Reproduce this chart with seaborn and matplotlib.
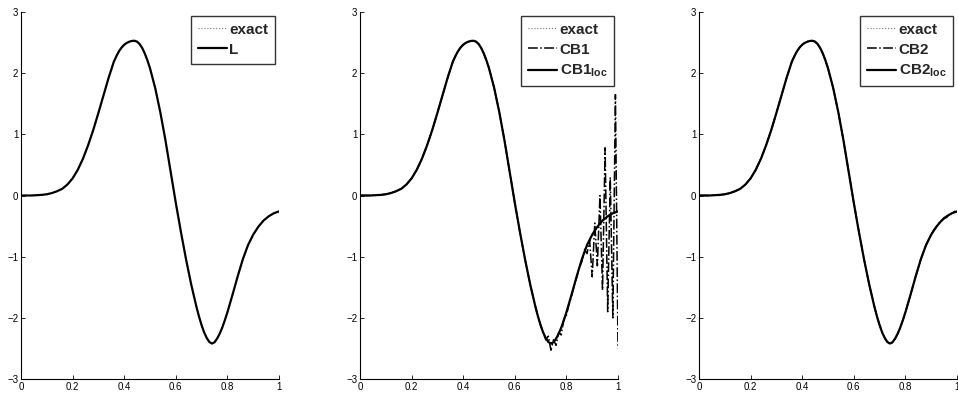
"""Three panels: exact solution vs. L, CB1/CB1_loc and CB2/CB2_loc approximations."""

import matplotlib
matplotlib.use("Agg")
import matplotlib.pyplot as plt
import pandas as pd
import seaborn as sns

# values (denser near the extrema)
x_grid = [0.00, 0.02, 0.04, 0.06, 0.08, 0.10, 0.12, 0.14, 0.16, 0.18,
          0.20, 0.22, 0.24, 0.26, 0.28, 0.30, 0.32, 0.34, 0.36, 0.37,
          0.38, 0.39, 0.40, 0.41, 0.42, 0.43, 0.44, 0.45, 0.46, 0.47,
          0.48, 0.49, 0.50, 0.52, 0.54, 0.56, 0.58, 0.60, 0.62, 0.64,
          0.66, 0.68, 0.69, 0.70, 0.71, 0.72, 0.73, 0.74, 0.75, 0.76,
          0.77, 0.78, 0.79, 0.80, 0.82, 0.84, 0.86, 0.88, 0.90, 0.92,
          0.94, 0.96, 0.98, 1.00]
exact = [0.00, 0.00, 0.00, 0.005, 0.01, 0.02, 0.04, 0.07, 0.11, 0.18,
         0.28, 0.42, 0.60, 0.82, 1.07, 1.35, 1.64, 1.93, 2.19, 2.28,
         2.36, 2.42, 2.465, 2.495, 2.515, 2.527, 2.53, 2.515, 2.475, 2.41,
         2.32, 2.21, 2.08, 1.76, 1.36, 0.90, 0.39, -0.12, -0.60, -1.05,
         -1.46, -1.82, -1.98, -2.12, -2.24, -2.33, -2.395, -2.42, -2.40, -2.34,
         -2.26, -2.16, -2.04, -1.91, -1.62, -1.32, -1.04, -0.81, -0.64, -0.51,
         -0.41, -0.34, -0.29, -0.26]
l_vals = list(exact)
cb1_loc = list(exact)
cb2_loc = list(exact)

# CB1 follows the exact curve up to x=0.70, then oscillates
cb1_tail_x = [0.71, 0.72, 0.73, 0.74, 0.75, 0.76, 0.77, 0.78, 0.79, 0.80,
              0.81, 0.82, 0.83, 0.84, 0.85, 0.86, 0.87, 0.88, 0.89, 0.90,
              0.91, 0.92, 0.93, 0.94, 0.95, 0.96, 0.97, 0.98, 0.99, 1.00]
cb1_tail_y = [-2.24, -2.36, -2.30, -2.53, -2.36, -2.45, -2.24, -2.28, -2.02, -1.96,
              -1.78, -1.64, -1.48, -1.34, -1.18, -1.08, -0.88, -0.95, -0.73, -1.33,
              -0.45, -1.15, 0.00, -1.55, 0.78, -1.90, 0.30, -2.00, 1.65, -2.50]

# CB2 is close to exact, slightly ragged near x=1
cb2_tail_x = [0.91, 0.92, 0.93, 0.94, 0.95, 0.96, 0.97, 0.98, 0.99, 1.00]
cb2_tail_y = [-0.56, -0.52, -0.45, -0.42, -0.36, -0.36, -0.30, -0.31, -0.26, -0.27]

i70 = x_grid.index(0.70) + 1
i90 = x_grid.index(0.90) + 1
cb1_x = x_grid[:i70] + cb1_tail_x
cb1_y = exact[:i70] + cb1_tail_y
cb2_x = x_grid[:i90] + cb2_tail_x
cb2_y = exact[:i90] + cb2_tail_y

sns.set_style("ticks")
plt.rcParams["font.family"] = ["Liberation Sans", "DejaVu Sans"]
plt.rcParams["mathtext.fontset"] = "custom"
plt.rcParams["mathtext.rm"] = "Liberation Sans:bold"
plt.rcParams["mathtext.it"] = "Liberation Sans:bold"
plt.rcParams["mathtext.bf"] = "Liberation Sans:bold"

fig = plt.figure(figsize=(9.58, 3.93), dpi=100)
lefts = [21 / 958, 360 / 958, 699 / 958]
axes = [fig.add_axes([l, 14 / 393, 258 / 958, 367 / 393]) for l in lefts]

panels = [
    [("exact", x_grid, exact, ":"), ("L", x_grid, l_vals, "-")],
    [("exact", x_grid, exact, ":"), ("CB1", cb1_x, cb1_y, "-."),
     ("CB1$_{\\rm loc}$", x_grid, cb1_loc, "-")],
    [("exact", x_grid, exact, ":"), ("CB2", cb2_x, cb2_y, "-."),
     ("CB2$_{\\rm loc}$", x_grid, cb2_loc, "-")],
]

for ax, series in zip(axes, panels):
    for label, xs, ys, ls in series:
        df = pd.DataFrame({"x": xs, "y": ys})
        if ls == ":":
            kw = dict(color="0.45", linewidth=0.8)
        elif ls == "-.":
            kw = dict(color="black", linewidth=1.1)
        else:
            kw = dict(color="black", linewidth=1.6)
        sns.lineplot(data=df, x="x", y="y", ax=ax, label=label, linestyle=ls,
                     estimator=None, sort=False, **kw)
    ax.set_xlim(0, 1)
    ax.set_ylim(-3, 3)
    ax.set_xticks([0, 0.2, 0.4, 0.6, 0.8, 1])
    ax.set_xticklabels(["0", "0.2", "0.4", "0.6", "0.8", "1"])
    ax.set_yticks([-3, -2, -1, 0, 1, 2, 3])
    ax.set_xlabel("")
    ax.set_ylabel("")
    ax.tick_params(direction="in", length=3, width=0.6, labelsize=7, pad=2, colors="black")
    for side in ["top", "right"]:
        ax.spines[side].set_visible(False)
    for side in ["left", "bottom"]:
        ax.spines[side].set_linewidth(0.8)
        ax.spines[side].set_color("black")
    leg = ax.legend(loc="upper right", prop={"weight": "bold", "size": 11},
                    frameon=True, fancybox=False, handlelength=1.9, handletextpad=0.15,
                    borderpad=0.45, labelspacing=0.4, borderaxespad=0.25)
    leg.get_frame().set_edgecolor("black")
    leg.get_frame().set_linewidth(1.0)

fig.savefig("out.png", dpi=100)
